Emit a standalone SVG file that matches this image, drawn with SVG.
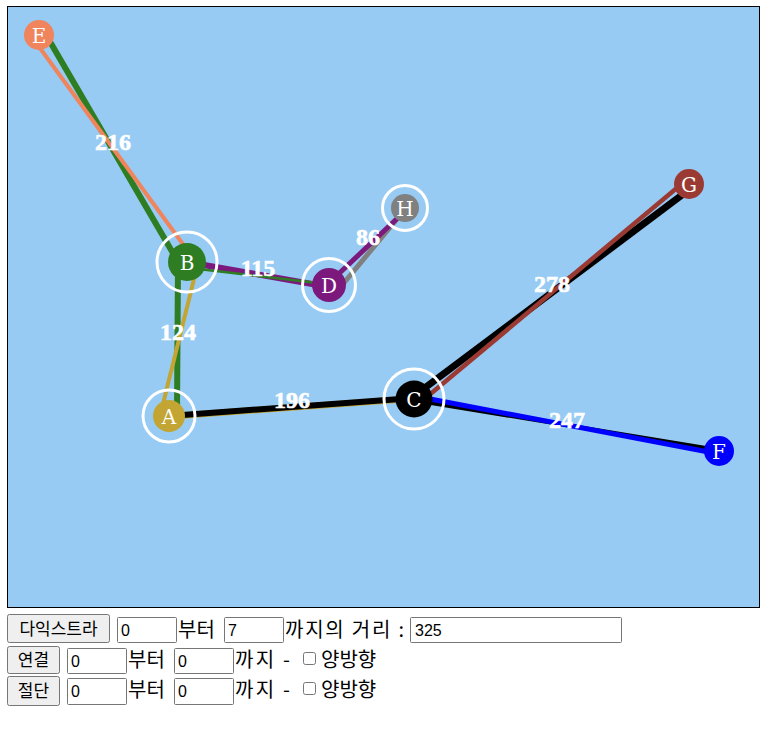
<svg xmlns="http://www.w3.org/2000/svg" width="781" height="742" viewBox="0 0 781 742">
<style>
.edge{fill:none;stroke-linecap:butt}
.ring{fill:none;stroke:#fff;stroke-width:3}
.nl{fill:#fff;font-family:"DejaVu Serif","Liberation Serif",serif;font-size:20px;text-anchor:middle;dominant-baseline:central}
.el{fill:#fff;stroke:#fff;stroke-width:0.6;font-family:"Liberation Serif",serif;font-weight:bold;font-size:24px;text-anchor:middle}
.btn{fill:#efefef;stroke:#767676;stroke-width:1}
.inp{fill:#fff;stroke:#767676;stroke-width:1}
.t{font-family:"Noto Sans CJK KR","Noto Sans",sans-serif;font-size:20px;fill:#000}
.it{font-family:"Liberation Sans",Arial,sans-serif;font-size:16px;fill:#000}
.bt{font-family:"Noto Sans CJK KR",sans-serif;font-size:17px;fill:#000;text-anchor:middle}
.cb{fill:#fff;stroke:#767676;stroke-width:1}
</style>
<rect x="7.5" y="6.5" width="752" height="601" fill="#97cbf4" stroke="#000" stroke-width="1"/>
<g id="connectors">
  <line class="edge" x1="49" y1="40" x2="177" y2="260" stroke="#2e7d22" stroke-width="6"/>
  <line class="edge" x1="37" y1="44" x2="185" y2="247" stroke="#f0845c" stroke-width="4"/>
  <line class="edge" x1="187" y1="262" x2="329" y2="287" stroke="#7b1a7c" stroke-width="6"/>
  <line class="edge" x1="190" y1="268" x2="318" y2="283" stroke="#2e7d22" stroke-width="2.5"/>
  <line class="edge" x1="178" y1="265" x2="177" y2="410" stroke="#2e7d22" stroke-width="6"/>
  <line class="edge" x1="195" y1="275" x2="162" y2="408" stroke="#c3a533" stroke-width="4"/>
  <line class="edge" x1="169" y1="416.5" x2="414" y2="398.5" stroke="#c3a533" stroke-width="6.5"/>
  <line class="edge" x1="169" y1="416" x2="414" y2="398" stroke="#000" stroke-width="6"/>
  <line class="edge" x1="418" y1="393" x2="690" y2="189" stroke="#000" stroke-width="7"/>
  <line class="edge" x1="428" y1="396" x2="684" y2="182" stroke="#9b3a33" stroke-width="4.5"/>
  <line class="edge" x1="425" y1="402" x2="712" y2="449" stroke="#000" stroke-width="4"/>
  <line class="edge" x1="425" y1="398" x2="719" y2="454" stroke="#0000ff" stroke-width="5"/>
  <line class="edge" x1="338" y1="290" x2="402" y2="213" stroke="#808080" stroke-width="5"/>
  <line class="edge" x1="329" y1="283" x2="404" y2="212" stroke="#7b1a7c" stroke-width="5"/>
</g>
<g id="node-E"><circle cx="39" cy="35" r="15" fill="#f0845c"/><text class="nl" x="39" y="36">E</text></g>
<g id="node-B"><circle cx="187" cy="262" r="19" fill="#2e7d22"/><circle class="ring" cx="187" cy="262" r="30"/><text class="nl" x="187" y="263">B</text></g>
<g id="node-D"><circle cx="329" cy="285" r="17" fill="#7b1a7c"/><circle class="ring" cx="329" cy="285" r="26.5"/><text class="nl" x="329" y="286">D</text></g>
<g id="node-H"><circle cx="405" cy="208" r="14" fill="#808080"/><circle class="ring" cx="405" cy="208" r="22.5"/><text class="nl" x="405" y="209">H</text></g>
<g id="node-A"><circle cx="169" cy="416" r="16" fill="#c3a533"/><circle class="ring" cx="169" cy="416" r="26"/><text class="nl" x="169" y="417">A</text></g>
<g id="node-C"><circle cx="414" cy="399" r="18.5" fill="#000"/><circle class="ring" cx="414" cy="399" r="30"/><text class="nl" x="414" y="400">C</text></g>
<g id="node-G"><circle cx="689" cy="184" r="15" fill="#9b3a33"/><text class="nl" x="689" y="185">G</text></g>
<g id="node-F"><circle cx="719" cy="451" r="15" fill="#0000ff"/><text class="nl" x="719" y="452">F</text></g>
<g id="edge-labels">
  <text class="el" x="113" y="150">216</text>
  <text class="el" x="258" y="276">115</text>
  <text class="el" x="368" y="245">86</text>
  <text class="el" x="178" y="340">124</text>
  <text class="el" x="292" y="408">196</text>
  <text class="el" x="552" y="292">278</text>
  <text class="el" x="567" y="428">247</text>
</g>
<g id="controls">
  <rect class="btn" x="7.5" y="614.5" width="102" height="28" rx="2"/>
  <text class="bt" x="58.5" y="635">다익스트라</text>
  <rect class="inp" x="117.5" y="617.5" width="59" height="25" rx="1"/>
  <text class="it" x="121" y="636">0</text>
  <text class="t" x="178" y="637">부터</text>
  <rect class="inp" x="224.5" y="617.5" width="59" height="25" rx="1"/>
  <text class="it" x="228" y="636">7</text>
  <text class="t" x="285" y="637" textLength="119" lengthAdjust="spacing">까지의 거리 :</text>
  <rect class="inp" x="410.5" y="617.5" width="211" height="25" rx="1"/>
  <text class="it" x="415" y="636">325</text>

  <rect class="btn" x="7.5" y="646.5" width="52" height="27" rx="2"/>
  <text class="bt" x="33.5" y="666">연결</text>
  <rect class="inp" x="67.5" y="648.5" width="59" height="25" rx="1"/>
  <text class="it" x="71" y="667">0</text>
  <text class="t" x="128" y="667">부터</text>
  <rect class="inp" x="174.5" y="648.5" width="59" height="25" rx="1"/>
  <text class="it" x="178" y="667">0</text>
  <text class="t" x="235" y="667" textLength="55" lengthAdjust="spacing">까지 -</text>
  <rect class="cb" x="303.5" y="652.5" width="12" height="12" rx="2"/>
  <text class="t" x="321" y="667">양방향</text>

  <rect class="btn" x="7.5" y="676.5" width="52" height="29" rx="2"/>
  <text class="bt" x="33.5" y="697">절단</text>
  <rect class="inp" x="67.5" y="678.5" width="59" height="26" rx="1"/>
  <text class="it" x="71" y="697">0</text>
  <text class="t" x="128" y="697">부터</text>
  <rect class="inp" x="174.5" y="678.5" width="59" height="26" rx="1"/>
  <text class="it" x="178" y="697">0</text>
  <text class="t" x="235" y="697" textLength="55" lengthAdjust="spacing">까지 -</text>
  <rect class="cb" x="303.5" y="682.5" width="12" height="12" rx="2"/>
  <text class="t" x="321" y="697">양방향</text>
</g>
</svg>
